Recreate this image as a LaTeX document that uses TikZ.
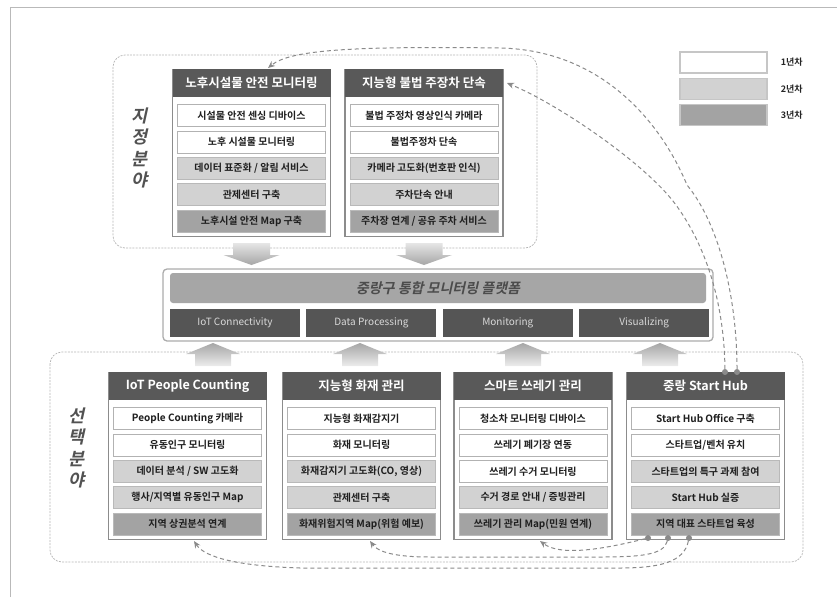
\documentclass[tikz,border=0pt]{standalone}
\usepackage{fontspec}
\setmainfont{Noto Sans CJK KR}[BoldFont={Noto Sans CJK KR Bold}]
\newfontfamily\slantkr{Noto Sans CJK KR}[FakeSlant=0.22,BoldFont={Noto Sans CJK KR Bold},BoldFeatures={FakeSlant=0.22}]
\usepackage{tikz}
\usetikzlibrary{arrows.meta,positioning,calc}
\definecolor{hdrgray}{HTML}{595959}
\definecolor{yeartwo}{HTML}{D2D2D2}
\definecolor{yearthree}{HTML}{A3A3A3}
\definecolor{edgegray}{HTML}{8C8C8C}
\definecolor{linkgray}{HTML}{8A8A8A}
\definecolor{zonegray}{HTML}{B4B4B4}
\definecolor{barlight}{HTML}{A6A6A6}
\definecolor{bardark}{HTML}{555555}
\newcommand{\blockdown}[1]{%
  \shade[top color=gray!20,bottom color=gray!70]
    (#1-18.5,243) -- (#1+18.5,243) -- (#1+18.5,255) -- (#1+28,255) -- (#1,265)
    -- (#1-28,255) -- (#1-18.5,255) -- cycle;}
\newcommand{\blockup}[1]{%
  \shade[top color=gray!70,bottom color=gray!15]
    (#1,343) -- (#1+27,354) -- (#1+18,354) -- (#1+18,366) -- (#1-18,366)
    -- (#1-18,354) -- (#1-27,354) -- cycle;}

\begin{document}
\begin{tikzpicture}[x=1pt,y=-1pt]
    \tikzset{
      panel/.style={draw=edgegray,line width=1.2pt,fill=white,minimum width=158pt,minimum height=167pt,anchor=north,inner sep=0pt},
      header/.style={fill=hdrgray,text=white,minimum width=158pt,minimum height=28pt,anchor=north,inner sep=0pt,font=\bfseries\fontsize{12.5}{14}\selectfont},
      item/.style={line width=0.8pt,minimum width=148pt,minimum height=22pt,inner sep=0pt,text=black!88,font=\bfseries\fontsize{10}{12}\selectfont},
      yrone/.style={item,draw=gray!60,fill=white},
      yrtwo/.style={item,draw=gray!55,fill=yeartwo},
      yrthree/.style={item,draw=gray!55,fill=yearthree},
      platform/.style={draw=gray!65,line width=1.3pt,fill=white,rounded corners=4pt,minimum width=550pt,minimum height=72pt},
      platbar/.style={fill=barlight,rounded corners=3pt,minimum width=536pt,minimum height=30pt,text=black!70,font=\slantkr\bfseries\fontsize{14}{16}\selectfont},
      platcell/.style={fill=bardark,text=white!85!black,minimum width=130pt,minimum height=28pt,inner sep=0pt,font=\fontsize{10}{12}\selectfont},
      legbox/.style={draw=gray!45,line width=1.2pt,minimum width=87pt,minimum height=21pt},
      legtxt/.style={font=\bfseries\fontsize{9}{10}\selectfont,text=black!85,inner sep=0pt},
      sidelabel/.style={align=center,text=black!68,font=\slantkr\bfseries\fontsize{17.5}{21.5}\selectfont},
      zone/.style={draw=zonegray,dash pattern=on 2pt off 1.2pt,line width=0.7pt,rounded corners=12pt},
      link/.style={draw=linkgray,dash pattern=on 4pt off 3pt,line width=1pt,-{Stealth[length=7pt,width=6pt]}},
      tail/.style={circle,fill=linkgray,inner sep=0pt,minimum size=6pt}
    }
    \useasboundingbox (0,0) rectangle (837,597);
    \draw[gray!55,line width=0.8pt] (10,597) -- (10,7) -- (837,7);

    % zones
    \draw[zone] (113,55) rectangle (537,248);
    \draw[zone] (50,352) rectangle (803,562);
    \node[sidelabel] (desig) at (140,148) {지\\정\\분\\야};
    \node[sidelabel] (select) at (77,448) {선\\택\\분\\야};

    % legend
    \node[legbox,fill=white] (lg1) at (723.5,62.5) {};
    \node[legbox,fill=yeartwo,below=4pt of lg1] (lg2) {};
    \node[legbox,fill=yearthree,below=4pt of lg2] (lg3) {};
    \node[legtxt,right=13pt of lg1] (lt1) {1년차};
    \node[legtxt,right=13pt of lg2] (lt2) {2년차};
    \node[legtxt,right=13pt of lg3] (lt3) {3년차};

    % designated services
    \node[panel] (pA) at (251.5,69) {};
    \node[header] (pAh) at (pA.north) {노후시설물 안전 모니터링};
    \node[yrone,below=7pt of pAh] (pA1) {시설물 안전 센싱 디바이스};
    \node[yrone,below=3.5pt of pA1] (pA2) {노후 시설물 모니터링};
    \node[yrtwo,below=3.5pt of pA2] (pA3) {데이터 표준화 / 알림 서비스};
    \node[yrtwo,below=3.5pt of pA3] (pA4) {관제센터 구축};
    \node[yrthree,below=3.5pt of pA4] (pA5) {노후시설 안전 Map 구축};

    \node[panel] (pB) at (424,69) {};
    \node[header] (pBh) at (pB.north) {지능형 불법 주장차 단속};
    \node[yrone,below=7pt of pBh] (pB1) {불법 주정차 영상인식 카메라};
    \node[yrone,below=3.5pt of pB1] (pB2) {불법주정차 단속};
    \node[yrtwo,below=3.5pt of pB2] (pB3) {카메라 고도화(번호판 인식)};
    \node[yrtwo,below=3.5pt of pB3] (pB4) {주차단속 안내};
    \node[yrthree,below=3.5pt of pB4] (pB5) {주차장 연계 / 공유 주차 서비스};

    \blockdown{251.5}
    \blockdown{424}

    % platform
    \node[platform] (plat) at (438,305) {};
    \node[platbar] (pbar) at (438,288) {중랑구 통합 모니터링 플랫폼};
    \node[platcell] (pc1) at (235,323) {IoT Connectivity};
    \node[platcell,right=6pt of pc1] (pc2) {Data Processing};
    \node[platcell,right=6pt of pc2] (pc3) {Monitoring};
    \node[platcell,right=6pt of pc3] (pc4) {Visualizing};

    \blockup{213}
    \blockup{360}
    \blockup{523}
    \blockup{660}

    % selected services
    \node[panel] (pC) at (187.5,372) {};
    \node[header] (pCh) at (pC.north) {IoT People Counting};
    \node[yrone,below=7pt of pCh] (pC1) {People Counting 카메라};
    \node[yrone,below=3.5pt of pC1] (pC2) {유동인구 모니터링};
    \node[yrtwo,below=3.5pt of pC2] (pC3) {데이터 분석 / SW 고도화};
    \node[yrtwo,below=3.5pt of pC3] (pC4) {행사/지역별 유동인구 Map};
    \node[yrthree,below=3.5pt of pC4] (pC5) {지역 상권분석 연계};

    \node[panel] (pD) at (361.5,372) {};
    \node[header] (pDh) at (pD.north) {지능형 화재 관리};
    \node[yrone,below=7pt of pDh] (pD1) {지능형 화재감지기};
    \node[yrone,below=3.5pt of pD1] (pD2) {화재 모니터링};
    \node[yrtwo,below=3.5pt of pD2] (pD3) {화재감지기 고도화(CO, 영상)};
    \node[yrtwo,below=3.5pt of pD3] (pD4) {관제센터 구축};
    \node[yrthree,below=3.5pt of pD4] (pD5) {화재위험지역 Map(위험 예보)};

    \node[panel] (pE) at (533,372) {};
    \node[header] (pEh) at (pE.north) {스마트 쓰레기 관리};
    \node[yrone,below=7pt of pEh] (pE1) {청소차 모니터링 디바이스};
    \node[yrone,below=3.5pt of pE1] (pE2) {쓰레기 폐기장 연동};
    \node[yrone,below=3.5pt of pE2] (pE3) {쓰레기 수거 모니터링};
    \node[yrtwo,below=3.5pt of pE3] (pE4) {수거 경로 안내 / 증빙관리};
    \node[yrthree,below=3.5pt of pE4] (pE5) {쓰레기 관리 Map(민원 연계)};

    \node[panel] (pF) at (705.5,372) {};
    \node[header] (pFh) at (pF.north) {중랑 Start Hub};
    \node[yrone,below=7pt of pFh] (pF1) {Start Hub Office 구축};
    \node[yrone,below=3.5pt of pF1] (pF2) {스타트업/벤처 유치};
    \node[yrtwo,below=3.5pt of pF2] (pF3) {스타트업의 특구 과제 참여};
    \node[yrtwo,below=3.5pt of pF3] (pF4) {Start Hub 실증};
    \node[yrthree,below=3.5pt of pF4] (pF5) {지역 대표 스타트업 육성};

    % hub links
    \node[tail] (s1) at (648,538) {};
    \node[tail] (s2) at (668,538) {};
    \node[tail] (s3) at (689,538) {};
    \node[tail] (h1) at (725,372) {};
    \node[tail] (h2) at (737,372) {};
    \coordinate (tE) at (540,541);
    \coordinate (tD) at (370,541);
    \coordinate (tC) at (194,541);
    \coordinate (tB) at (507,83);
    \coordinate (tA) at (268,68);
    \draw[link] (s1) .. controls (600,550) and (560,556) .. (tE);
    \draw[link] (s2) .. controls (664,555) and (640,557) .. (600,557) -- (430,557)
      .. controls (395,557) and (378,552) .. (tD);
    \draw[link] (s3) .. controls (684,562) and (660,568) .. (620,568) -- (300,568)
      .. controls (240,566) and (205,558) .. (tC);
    \draw[link] (h1) .. controls (724,300) and (705,245) .. (676,205)
      .. controls (647,165) and (560,105) .. (tB);
    \draw[link] (h2) .. controls (737,300) and (720,225) .. (687,185)
      .. controls (660,120) and (600,50) .. (500,48)
      .. controls (350,46) and (290,50) .. (tA);
  \end{tikzpicture}
\end{document}
